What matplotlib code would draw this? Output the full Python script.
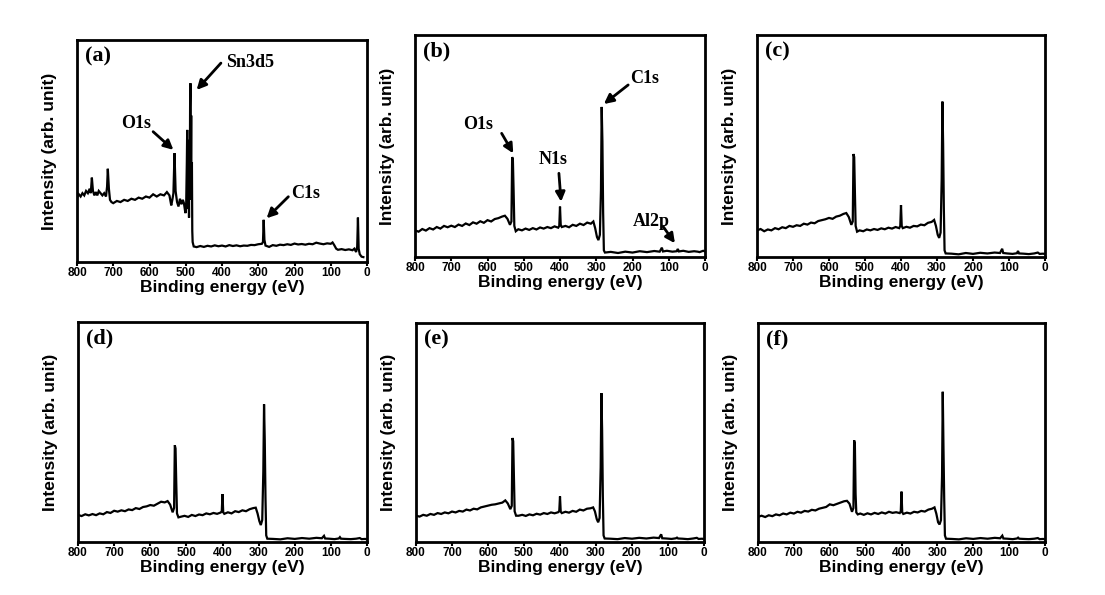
import matplotlib
matplotlib.use('Agg')
import matplotlib.pyplot as plt

# ---- data (binding energy in eV, intensity in arb. units 0-100) ----
spec_a = [
    (800, 29.0), (795, 30.5), (790, 29.5), (785, 31.0), (780, 30.0), (775, 32.0),
    (770, 31.0), (765, 33.0), (762, 31.0), (759, 38.0), (756, 32.0), (752, 30.0),
    (748, 31.5), (744, 30.0), (740, 32.0), (735, 31.0), (730, 30.0), (725, 31.0),
    (720, 29.5), (717, 34.0), (715, 42.0), (712, 33.0), (709, 28.0), (705, 27.0),
    (700, 26.5), (690, 27.5), (680, 27.0), (670, 28.0), (660, 27.5), (650, 28.5),
    (640, 28.0), (630, 29.0), (620, 28.5), (610, 29.5), (600, 29.0), (590, 30.5),
    (580, 29.5), (570, 30.5), (560, 30.0), (552, 31.5), (545, 30.0), (540, 25.5),
    (537, 28.0), (534, 31.0), (531, 49.0), (528, 32.0), (524, 27.0), (520, 25.0),
    (516, 28.5), (512, 26.0), (508, 28.0), (505, 26.5), (501, 22.0), (499, 24.0),
    (497, 45.0), (496, 59.5), (495, 28.0), (494, 50.0), (493, 24.0), (492, 42.0),
    (491, 20.0), (490, 55.0), (489, 28.0), (488, 70.0), (487, 80.5), (486, 42.0),
    (485, 66.0), (484, 28.0), (483, 45.0), (482, 14.0), (481, 9.0), (478, 7.0),
    (470, 6.7), (460, 7.2),
    (450, 6.8), (440, 7.3), (430, 7.0), (420, 7.5), (410, 7.1), (400, 7.4),
    (390, 7.0), (380, 7.6), (370, 7.2), (360, 7.5), (350, 7.1), (340, 7.4),
    (330, 7.3), (320, 7.7), (310, 7.6), (300, 8.0), (290, 8.2), (287, 9.0),
    (285, 19.0), (283, 10.0), (280, 7.4), (270, 6.8), (260, 7.6), (250, 7.3),
    (240, 7.8), (230, 7.6), (220, 8.0), (210, 7.7), (200, 8.3), (190, 7.9),
    (180, 8.1), (170, 7.8), (160, 8.2), (150, 8.0), (140, 8.7), (130, 8.3),
    (120, 8.0), (110, 8.4), (100, 8.2), (95, 8.8), (90, 7.5), (85, 6.0),
    (80, 5.5), (70, 5.8), (60, 5.4), (50, 5.7), (40, 5.3), (35, 6.0),
    (30, 4.5), (27, 7.0), (25, 20.0), (23, 6.0), (20, 3.5), (15, 2.4), (10, 2.2),
]

be = [800, 790, 780, 770, 760, 750, 740, 730, 720, 710, 700, 690, 680, 670, 660,
      650, 640, 630, 620, 610, 600, 590, 580, 570, 560,
      552, 545, 538, 534, 532, 530, 528, 526, 522,
      515, 505, 495, 485, 475, 465, 455, 445, 435, 425, 415, 405,
      402, 400, 398, 395,
      385, 375, 365, 355, 345, 335, 325, 315,
      308, 303, 298, 294, 290, 287, 285, 283, 281, 279, 276,
      260, 240, 220, 200, 180, 160, 140,
      125, 119, 116, 105, 90, 78, 75, 72, 60, 45, 30, 20, 15, 5, 0]

int_b = [12.0, 11.4, 12.6, 11.9, 13.0, 12.4, 13.5, 12.8, 14.0, 13.4, 14.1, 13.5, 14.6, 14.0, 15.1,
         14.4, 15.6, 15.0, 16.1, 15.4, 16.6, 16.0, 17.1, 17.5, 18.2,
         18.6, 17.2, 14.5, 16.0, 45.0, 44.0, 30.0, 14.0, 11.6,
         12.5, 12.0, 12.8, 12.2, 13.0, 12.4, 13.3, 12.8, 13.5, 13.0, 13.8, 13.2,
         14.0, 22.7, 14.5, 13.5,
         14.0, 13.4, 14.5, 14.0, 15.0, 14.4, 15.5, 15.0,
         16.0, 13.0, 9.0, 7.6, 10.0, 30.0, 67.6, 52.0, 20.0, 3.0, 2.0,
         2.3, 1.8, 2.4, 2.0, 2.6, 2.2, 2.7,
         2.4, 4.2, 2.5, 2.8, 2.4, 2.6, 3.6, 2.5, 2.8, 2.3, 2.6, 2.4, 2.2, 2.8, 2.5]

int_c = [12.0, 12.6, 11.6, 12.4, 12.0, 13.0, 12.5, 13.4, 13.0, 14.0, 13.6, 14.3, 14.0, 15.0, 14.6,
         15.5, 15.2, 16.2, 16.6, 17.0, 17.6, 17.2, 18.2, 18.6, 19.4,
         19.8, 18.0, 14.5, 16.0, 46.4, 45.0, 28.8, 14.0, 11.4,
         12.0, 11.6, 12.4, 12.0, 12.6, 12.2, 12.9, 12.5, 13.2, 12.8, 13.5, 13.0,
         14.0, 23.4, 14.0, 13.0,
         13.6, 13.2, 14.0, 13.8, 14.6, 14.3, 15.4, 15.8,
         16.7, 14.0, 10.0, 8.6, 11.0, 35.0, 70.0, 51.0, 22.0, 3.0, 1.6,
         1.5, 1.2, 1.8, 1.4, 1.9, 1.6, 2.0,
         1.8, 3.7, 1.8, 1.6, 1.4, 1.7, 2.7, 1.6, 1.5, 1.3, 1.6, 2.0, 1.4, 1.5, 1.3]

int_d = [12.3, 11.8, 12.6, 12.1, 12.7, 12.2, 13.0, 12.6, 13.6, 13.2, 14.2, 13.8, 14.4, 14.0, 14.8,
         14.5, 15.4, 15.0, 15.9, 16.2, 16.8, 16.5, 17.4, 18.3, 18.0,
         18.6, 17.0, 13.5, 15.5, 44.0, 42.5, 26.8, 13.0, 11.2,
         11.5, 11.9, 11.4, 12.3, 11.8, 12.5, 12.2, 13.0, 12.6, 13.2, 12.8, 13.4,
         14.0, 21.8, 13.5, 12.8,
         13.5, 13.0, 14.0, 13.6, 14.4, 14.0, 14.9, 15.4,
         15.6, 13.0, 9.5, 7.7, 10.0, 32.0, 62.6, 46.0, 20.0, 3.0, 1.5,
         1.4, 1.2, 1.7, 1.4, 1.8, 1.5, 1.9,
         1.7, 2.8, 1.6, 1.5, 1.3, 1.6, 2.2, 1.5, 1.4, 1.3, 1.5, 1.8, 1.3, 1.4, 1.2]

int_e = [12.0, 11.6, 12.4, 12.0, 12.8, 12.4, 13.2, 12.8, 13.5, 13.1, 13.9, 13.5, 14.2, 13.9, 14.8,
         14.4, 15.2, 14.9, 15.8, 16.2, 16.6, 17.0, 17.2, 17.6, 18.0,
         19.0, 17.6, 15.0, 16.5, 47.5, 46.0, 29.8, 14.0, 12.0,
         12.0, 12.4, 11.9, 12.6, 12.2, 12.9, 12.5, 13.2, 12.8, 13.5, 13.1, 13.6,
         14.2, 20.8, 13.8, 13.2,
         13.8, 13.4, 14.2, 13.8, 14.8, 14.4, 15.2, 15.4,
         15.8, 14.0, 10.5, 9.0, 11.0, 34.0, 68.0, 51.0, 21.0, 3.0, 1.6,
         1.5, 1.3, 1.8, 1.5, 1.9, 1.6, 2.0,
         1.8, 3.5, 1.7, 1.6, 1.4, 1.7, 2.0, 1.6, 1.5, 1.3, 1.6, 1.9, 1.4, 1.5, 1.3]

int_f = [11.5, 12.0, 11.4, 12.2, 11.8, 12.6, 12.2, 13.0, 12.6, 13.4, 13.0, 13.8, 13.4, 14.2, 13.9,
         14.7, 14.4, 15.2, 15.6, 16.0, 17.2, 16.8, 17.4, 18.0, 18.6,
         18.8, 17.5, 13.8, 15.5, 46.4, 45.0, 22.0, 13.5, 12.6,
         13.0, 12.4, 13.1, 12.6, 13.3, 12.8, 13.5, 13.0, 13.8, 13.3, 13.6, 13.2,
         14.0, 23.0, 13.6, 12.8,
         13.4, 13.0, 13.8, 13.5, 14.2, 13.9, 14.8, 15.2,
         15.8, 13.0, 9.0, 8.0, 10.0, 30.0, 68.6, 43.0, 20.0, 3.0, 1.5,
         1.4, 1.2, 1.7, 1.4, 1.8, 1.5, 1.9,
         1.7, 2.9, 1.6, 1.5, 1.3, 1.6, 2.0, 1.5, 1.4, 1.3, 1.5, 1.8, 1.3, 1.4, 1.2]

panel_labels = ['(a)', '(b)', '(c)', '(d)', '(e)', '(f)']

# peak annotations: (panel index, text, text pos (E, I), arrow tail, arrow head)
peak_notes = [
    (0, 'Sn3d5', (389, 90.0), (403, 89.6), (470, 77.5)),
    (0, 'O1s', (677, 62.5), (590, 58.7), (534, 50.5)),
    (0, 'C1s', (208, 30.9), (217, 29.4), (277, 19.7)),
    (1, 'C1s', (207, 80.5), (212, 77.5), (279, 68.9)),
    (1, 'O1s', (667, 59.5), (561, 55.7), (529, 46.7)),
    (1, 'N1s', (460, 43.7), (403, 37.7), (397, 24.9)),
    (1, 'Al2p', (198, 15.9), (115, 13.6), (83, 6.2)),
]

# ---- figure ----
plt.rcParams['font.family'] = ['Liberation Sans', 'DejaVu Sans']
fig = plt.figure(figsize=(11.05, 5.95), dpi=100)

# axes boxes in pixels: left, top, right, bottom
boxes_px = [(77, 40, 367, 262), (415, 35, 705, 257), (757, 35, 1045, 257),
            (78, 322, 367, 542), (416, 323, 704, 542), (758, 323, 1045, 542)]

be_a = [p[0] for p in spec_a]
int_a = [p[1] for p in spec_a]
series = [(be_a, int_a), (be, int_b), (be, int_c), (be, int_d), (be, int_e), (be, int_f)]

axes = []
for i, (l, t, r, b) in enumerate(boxes_px):
    ax = fig.add_axes([l / 1105, (595 - b) / 595, (r - l) / 1105, (b - t) / 595])
    x, y = series[i]
    ax.plot(x, y, color='black', lw=1.6, solid_joinstyle='miter')
    ax.set_xlim(800, 0)
    ax.set_ylim(0, 100)
    ax.set_xticks(range(0, 801, 100))
    ax.set_yticks([])
    ax.tick_params(axis='x', direction='out', length=3, width=1.5, pad=0.5,
                   labelsize=8.5, top=False)
    for lab in ax.get_xticklabels():
        lab.set_fontweight('bold')
    for sp in ax.spines.values():
        sp.set_linewidth(2)
    ax.set_xlabel('Binding energy (eV)', fontsize=12.5, fontweight='bold', labelpad=1)
    ax.set_ylabel('Intensity (arb. unit)', fontsize=12.5, fontweight='bold')
    ax.yaxis.set_label_coords(-0.068, 0.5)
    ax.text(0.028, 0.925, panel_labels[i], transform=ax.transAxes, va='center', ha='left',
            fontsize=16, fontweight='bold', family='Liberation Serif')
    axes.append(ax)

for idx, txt, tpos, tail, head in peak_notes:
    ax = axes[idx]
    ax.text(tpos[0], tpos[1], txt, ha='left', va='center', fontsize=13,
            fontweight='bold', family='Liberation Serif')
    ax.annotate('', xy=head, xytext=tail,
                arrowprops=dict(arrowstyle='-|>', color='black', lw=2,
                                mutation_scale=14, shrinkA=0, shrinkB=0))

fig.savefig('out.png', dpi=100)
